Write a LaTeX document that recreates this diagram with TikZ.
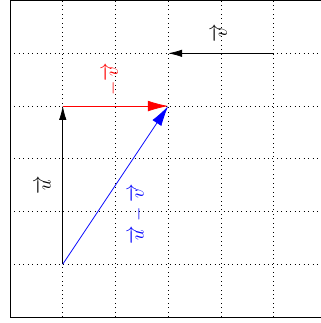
\documentclass[tikz,border=0pt]{standalone}
\usepackage{amsmath, amssymb}
\usetikzlibrary{arrows.meta}
\begin{document}
\begin{tikzpicture}[
  vecLbl/.style={rotate=90, inner sep=0pt},
  thinArr/.style={-{Latex[length=7.5pt,width=4pt]}},
  bigArr/.style={-{Latex[length=11pt,width=5.8pt]}},
]
\useasboundingbox (-0.19,-0.114) rectangle (5.88,6.011);
\draw[dotted] (0,0) grid (6,6);
\draw (0,0) rectangle (6,6);
\coordinate (o) at (1,1);
\coordinate (a) at (1,4);
\coordinate (b) at (3,4);
\coordinate (p) at (5,5);
\coordinate (q) at (3,5);
\draw[thinArr] (o) -- (a);
\draw[thinArr] (p) -- (q);
\draw[bigArr, red] (a) -- (b);
\draw[bigArr, blue] (o) -- (b);
\node[vecLbl] (uLbl) at (0.63,2.49) {$\overrightarrow{u}$};
\node[vecLbl] (vLbl) at (3.97,5.39) {$\overrightarrow{v}$};
\node[vecLbl, red] (mvLbl) at (1.92,4.51) {$-\overrightarrow{v}$};
\node[vecLbl, blue] (diffLbl) at (2.41,1.95) {$\overrightarrow{u}-\overrightarrow{v}$};
\end{tikzpicture}
\end{document}
